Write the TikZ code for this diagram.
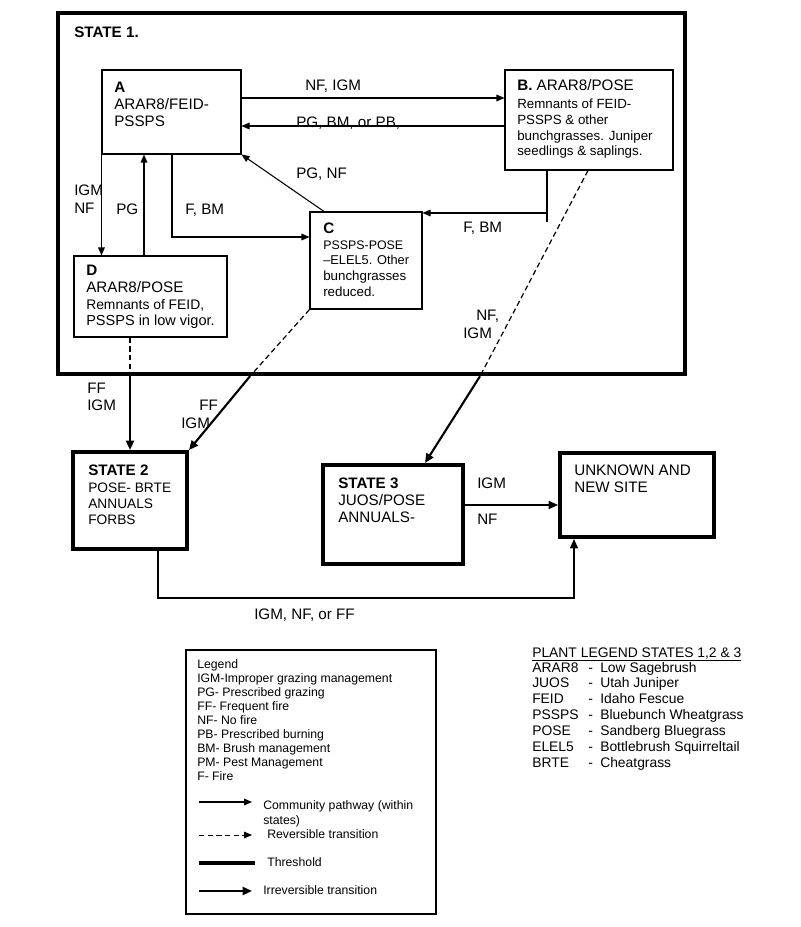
\documentclass[tikz,border=0pt]{standalone}
\usepackage{fontspec}
\setmainfont{Liberation Sans}
\usetikzlibrary{arrows.meta,fit}
\newcommand{\bigtxt}{\fontsize{11.4}{12.75}\selectfont}
\newcommand{\smalltxt}{\fontsize{10}{12}\selectfont}

\begin{document}
\begin{tikzpicture}[x=0.75pt,y=-0.75pt,
    box/.style={draw,line width=0.8pt,inner sep=0pt},
    statebox/.style={draw,line width=3pt,inner sep=0pt},
    txt/.style={anchor=north west,inner sep=0pt,align=left,font=\smalltxt},
    lbl/.style={anchor=north west,inner sep=0pt,align=left,font=\bigtxt},
    plantrow/.style={anchor=base west,inner sep=0pt,font=\fontsize{10.4}{12}\selectfont},
    pathway/.style={-{Triangle[length=6pt,width=5pt]},line width=0.8pt},
    revers/.style={dash pattern=on 4pt off 2.5pt,line width=0.9pt},
    irrev/.style={-{Triangle[length=7pt,width=6pt]},line width=1.6pt}]
    \useasboundingbox (0,0) rectangle (800,927);

    \node[statebox,line width=3.4pt,fit={(58,13) (685,374)}] (S1) {};
    \node[txt,font=\bigtxt\bfseries] (S1txt) at (74,26.5) {STATE 1.};

    \node[box,fit={(102,70) (241,154)}] (A) {};
    \node[txt,font=\bigtxt] (Atxt) at (114,81.5) {\textbf{A}\\ARAR8/FEID-\\PSSPS};
    \node[box,fit={(505,70) (673,170)}] (B) {};
    \node[txt,font=\fontsize{10}{11.8}\selectfont] (Btxt) at (517,79.5)
        {{\bigtxt\textbf{B.} ARAR8/POSE}\\[1.7pt]Remnants of FEID-\\PSSPS \& other\\bunchgrasses. Juniper\\seedlings \& saplings.};
    \node[box,fit={(310,212) (422,309)}] (C) {};
    \node[txt,font=\fontsize{9.3}{11.8}\selectfont] (Ctxt) at (323,222.5)
        {{\bigtxt\textbf{C}}\\PSSPS-POSE\\{\fontsize{9.6}{12}\selectfont –ELEL5. Other}\\{\fontsize{10}{12}\selectfont bunchgrasses}\\{\fontsize{10}{12}\selectfont reduced.}};
    \node[box,fit={(74,256) (227,337)}] (D) {};
    \node[txt,font=\bigtxt] (Dtxt) at (86,265)
        {\textbf{D}\\ARAR8/POSE\\{\fontsize{10.4}{12}\selectfont Remnants of FEID,}\\[-0.75pt]{\fontsize{10.9}{12}\selectfont PSSPS in low vigor.}};

    \node[statebox,fit={(73,452) (187,549)}] (S2) {};
    \node[txt,font=\fontsize{10.3}{12}\selectfont] (S2txt) at (88,464.5)
        {{\bigtxt\textbf{STATE 2}}\\[0.5pt]POSE- BRTE\\ANNUALS\\FORBS};
    \node[statebox,fit={(323,465) (463,564)}] (S3) {};
    \node[txt,font=\bigtxt] (S3txt) at (338,477.5) {\textbf{STATE 3}\\JUOS/POSE\\ANNUALS-};
    \node[statebox,fit={(560,453) (714,537)}] (U) {};
    \node[txt,font=\bigtxt] (Utxt) at (574,464.5) {UNKNOWN AND\\NEW SITE};

    % community pathways
    \draw[pathway] (A.east |- 0,98) -- (B.west |- 0,98);
    \draw[pathway] (B.west |- 0,126) -- (A.east |- 0,126);
    \draw[pathway] (A.south west) -- (D.north -| A.south west);
    \draw[pathway] (D.north -| 144,0) -- (A.south -| 144,0);
    \draw[pathway] (A.south -| 172,0) |- (C.west |- 0,237);
    \draw[pathway] (C.north -| 324,0) -- (A.south east);
    \coordinate (bend) at (547,222);
    \coordinate (bjoin) at (547,213);
    \draw[line width=0.8pt] (B.south -| bend) -- (bend);
    \draw[pathway] (bjoin) -- (C.east |- bjoin);

    \node[lbl] (l1) at (305,79.5) {NF, IGM};
    \node[lbl] (l2) at (296,116.5) {PG, BM, or PB,};
    \node[lbl] (l3) at (296,167.5) {PG, NF};
    \node[lbl,font=\fontsize{11.4}{13.5}\selectfont] (l4) at (74,185) {IGM\\NF};
    \node[lbl] (l5) at (116,203.5) {PG};
    \node[lbl] (l6) at (185,203.5) {F, BM};
    \node[lbl] (l7) at (463,221.5) {F, BM};

    % transitions
    \coordinate (dcut) at (S1.south -| 130,0);
    \draw[revers] (D.south -| dcut) -- (dcut);
    \draw[irrev] (dcut) -- (S2.north -| dcut);
    \coordinate (ccut) at (S1.south -| 250,0);
    \draw[revers] (C.south west) -- (ccut);
    \draw[irrev] (ccut) -- (S2.north east);
    \coordinate (bcut) at (S1.south -| 480,0);
    \draw[revers] (B.south -| 588,0) -- (bcut);
    \draw[irrev] (bcut) -- (S3.north -| 425,0);
    \draw[irrev,line width=1.2pt] (S3.east |- 0,505) -- (U.west |- 0,505);
    \draw[irrev,line width=1.2pt] (S2.south -| 158,0) -- (158,598) -| (U.south -| 574,0);

    \node[lbl] (l8) at (476,309.5) {NF,};
    \node[lbl] (l9) at (463,327.5) {IGM};
    \node[lbl,font=\fontsize{11.4}{13.1}\selectfont] (l10) at (87,382.5) {FF\\IGM};
    \node[lbl] (l11) at (199,399.5) {FF};
    \node[lbl] (l12) at (181,417.5) {IGM};
    \node[lbl] (l13) at (477,477.5) {IGM};
    \node[lbl] (l14) at (477,513.5) {NF};
    \node[lbl] (l15) at (254,608.5) {IGM, NF, or FF};

    % legend
    \node[box,line width=0.9pt,fit={(186,650) (436,914)}] (leg) {};
    \node[txt,font=\fontsize{9.2}{10.5}\selectfont] (legtxt) at (197,659.6)
        {Legend\\IGM-Improper grazing management\\PG- Prescribed grazing\\FF- Frequent fire\\NF- No fire\\PB- Prescribed burning\\BM- Brush management\\PM- Pest Management\\F- Fire};
    \draw[pathway] (199,802) -- (252,802);
    \draw[revers,line width=0.7pt,-{Triangle[length=6pt,width=5pt]}] (199,835) -- (252,835);
    \draw[line width=3pt] (199,863) -- (255,863);
    \draw[irrev] (199,891) -- (252,891);
    \node[txt,font=\fontsize{9.2}{11.25}\selectfont] (k1) at (263,800.5) {Community pathway (within\\states)};
    \node[txt,font=\fontsize{9.2}{10.5}\selectfont] (k2) at (267,829.6) {Reversible transition};
    \node[txt,font=\fontsize{9.2}{10.5}\selectfont] (k3) at (267,857.6) {Threshold};
    \node[txt,font=\fontsize{9.2}{10.5}\selectfont] (k4) at (263,885.6) {Irreversible transition};

    % plant legend
    \node[plantrow] (plant) at (532,657) {\underline{PLANT LEGEND STATES 1,2 \& 3}};
    \foreach \code/\plantname [count=\i] in {ARAR8/Low Sagebrush,JUOS/Utah Juniper,FEID/Idaho Fescue,
        PSSPS/Bluebunch Wheatgrass,POSE/Sandberg Bluegrass,ELEL5/Bottlebrush Squirreltail,BRTE/Cheatgrass}{
        \node[plantrow] (code\i) at (532,656.2+15.83*\i) {\code};
        \node[plantrow] (dash\i) at (588,656.2+15.83*\i) {-};
        \node[plantrow] (name\i) at (600,656.2+15.83*\i) {\plantname};
    }
\end{tikzpicture}
\end{document}
